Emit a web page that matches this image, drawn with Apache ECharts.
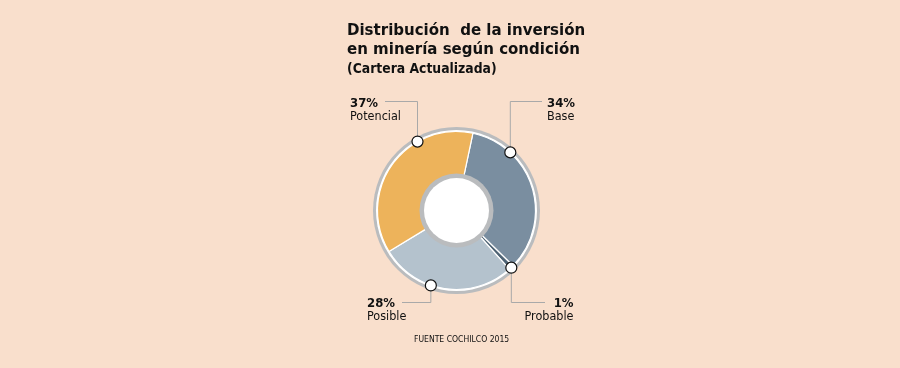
<!DOCTYPE html>
<html>
<head>
<meta charset="utf-8">
<script src="https://cdn.jsdelivr.net/npm/echarts@6/dist/echarts.min.js"></script>
<style>
html,body{margin:0;padding:0;background:#F9DFCC;}
#c{width:900px;height:368px;}
</style>
</head>
<body>
<div id="c"></div>
<script>
// ---- data ----
const categories = ['Base', 'Probable', 'Posible', 'Potencial'];
const values = [34, 1, 28, 37];
const colors = ['#7A8EA0', '#4E6374', '#B4C2CD', '#EDB35B'];
const titleLines = ['Distribución  de la inversión', 'en minería según condición'];
const subtitle = '(Cartera Actualizada)';
const source = 'FUENTE COCHILCO 2015';

// ---- layout (annotation anchors and label placement) ----
const CX = 456.5, CY = 210.5;
const R_OUT = 79, R_IN = 35;
const anchorDeg = [42.8, 136.2, 198.9, 330.5];   // where each leader line touches the ring
const anchorR = 79.2;
const labelPlace = [
  {x: 547, y: 97, align: 'left', ly: 101.5, lx: 542},
  {x: 573.5, y: 297, align: 'right', ly: 302.5, lx: 545},
  {x: 367, y: 297, align: 'left', ly: 302.5, lx: 402},
  {x: 350, y: 97, align: 'left', ly: 101.5, lx: 385}
];
const FONT = 'DejaVu Sans Condensed';

function anchorPt(i) {
  const a = anchorDeg[i] * Math.PI / 180;
  return [CX + anchorR * Math.sin(a), CY - anchorR * Math.cos(a)];
}

const chart = echarts.init(document.getElementById('c'), null, {renderer: 'canvas'});
chart.setOption({
  backgroundColor: '#F9DFCC',
  animation: false,
  title: [{
    text: titleLines.join('\n'),
    subtext: subtitle,
    left: 342, top: 16,
    itemGap: 2,
    textStyle: {fontFamily: FONT, fontWeight: 'bold', fontSize: 16.7, lineHeight: 19, color: '#111'},
    subtextStyle: {fontFamily: FONT, fontWeight: 'bold', fontSize: 13.8, lineHeight: 16, color: '#111'}
  }],
  graphic: [{
    type: 'text', left: 414, top: 335, scaleX: 0.9, silent: true,
    style: {text: source, fontFamily: FONT, fontSize: 9.5, fill: '#111'}
  }],
  polar: {center: [CX, CY], radius: 83.5},
  angleAxis: {type: 'value', min: 0, max: 360, startAngle: 90, clockwise: true, show: false},
  radiusAxis: {type: 'value', min: 0, max: 83.5, show: false},
  series: [
    { // outer gray ring
      type: 'pie', silent: true, z: 1, center: [CX, CY], radius: [0, 83.5],
      label: {show: false}, labelLine: {show: false},
      itemStyle: {color: '#BABCBE'}, data: [1]
    },
    { // white gap
      type: 'pie', silent: true, z: 2, center: [CX, CY], radius: [0, 80.5],
      label: {show: false}, labelLine: {show: false},
      itemStyle: {color: '#FFFFFF'}, data: [1]
    },
    { // main donut
      type: 'pie', z: 3, center: [CX, CY], radius: [R_IN, R_OUT],
      startAngle: 78, clockwise: true,
      itemStyle: {borderColor: '#FFFFFF', borderWidth: 1.2},
      data: categories.map((n, i) => ({name: n, value: values[i], itemStyle: {color: colors[i]}})),
      label: {
        show: true, position: 'outside',
        formatter: p => `{p|${p.value}%}\n{n|${p.name}}`,
        rich: {
          p: {fontFamily: FONT, fontWeight: 'bold', fontSize: 13, lineHeight: 13, color: '#111'},
          n: {fontFamily: FONT, fontSize: 12.5, lineHeight: 14, color: '#111'}
        }
      },
      labelLine: {show: true, lineStyle: {color: '#A9A9A9', width: 1}},
      labelLayout: function (params) {
        const i = params.dataIndex;
        const L = labelPlace[i];
        const a = anchorPt(i);
        return {
          x: L.x, y: L.y, align: L.align, verticalAlign: 'top',
          labelLinePoints: [[a[0], a[1]], [a[0], L.ly], [L.lx, L.ly]]
        };
      }
    },
    { // inner gray ring
      type: 'pie', silent: true, z: 4, center: [CX, CY], radius: [0, 37],
      label: {show: false}, labelLine: {show: false},
      itemStyle: {color: '#BABCBE'}, data: [1]
    },
    { // inner white disc
      type: 'pie', silent: true, z: 5, center: [CX, CY], radius: [0, 32.5],
      label: {show: false}, labelLine: {show: false},
      itemStyle: {color: '#FFFFFF'}, data: [1]
    },
    { // anchor markers
      type: 'scatter', coordinateSystem: 'polar', z: 10, silent: true,
      symbol: 'circle', symbolSize: 11,
      itemStyle: {color: '#FFFFFF', borderColor: '#111', borderWidth: 1.2, opacity: 1},
      data: anchorDeg.map(d => [anchorR, d])
    }
  ]
});
</script>
</body>
</html>
